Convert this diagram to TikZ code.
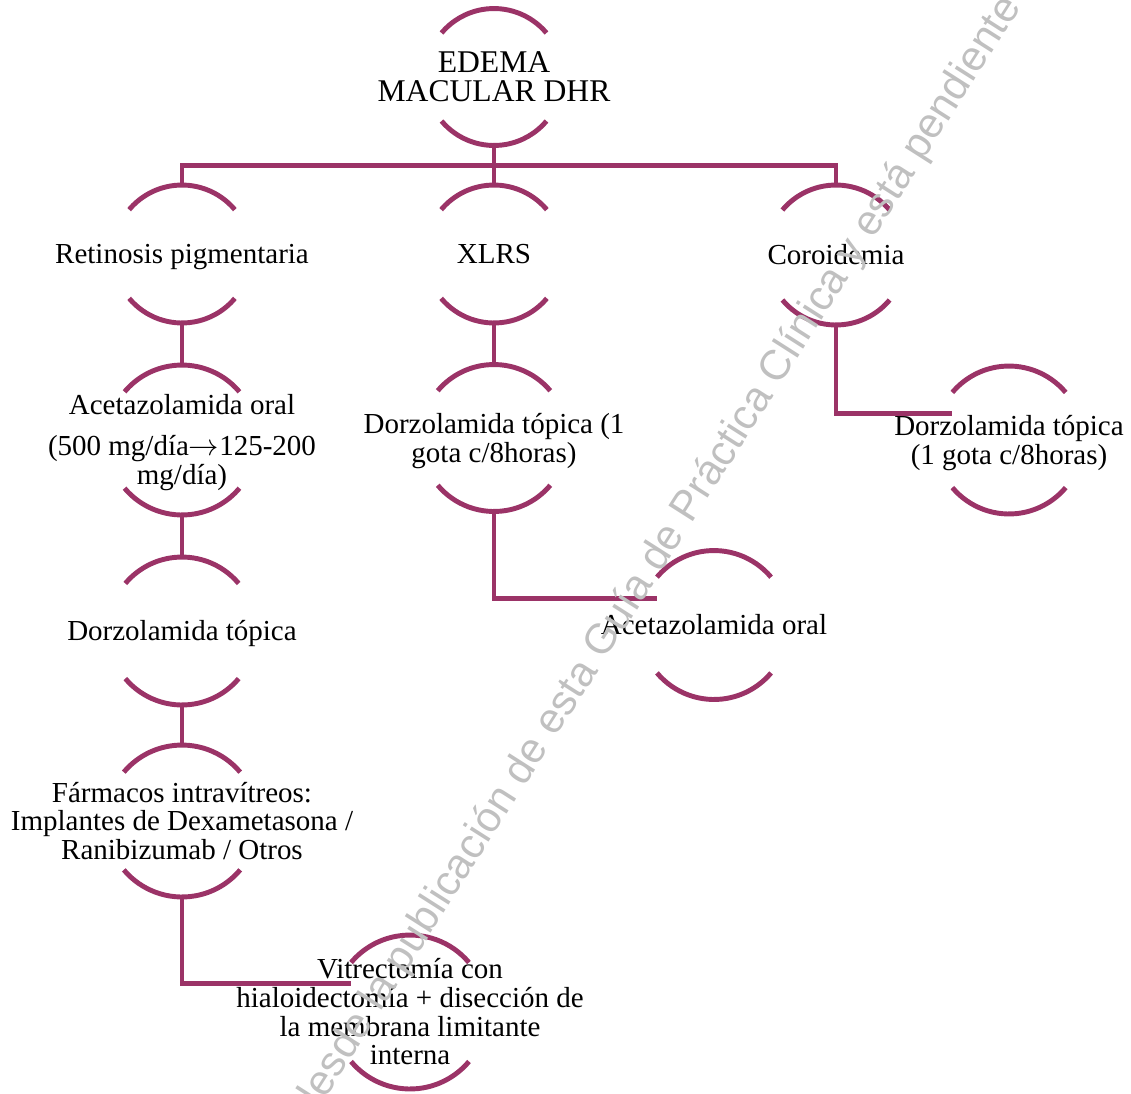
\documentclass[tikz,border=0pt]{standalone}
\usepackage{fontspec}
\setmainfont{Liberation Serif}
\newfontfamily\wmfont{Liberation Sans}
\usetikzlibrary{calc}
\definecolor{plum}{RGB}{155,51,103}
\definecolor{wmgray}{RGB}{192,192,192}
\newcommand{\ctext}[1]{\raisebox{-2.3pt}[\height][\depth]{\makebox[0pt]{\begin{tabular}{@{}c@{}}#1\end{tabular}}}}

\begin{document}
\begin{tikzpicture}[x=0.02cm, y=0.02cm,
    ring/.style = {circle, inner sep=0pt, outer sep=0pt, minimum size=#1*0.04cm,
                   font=\fontsize{16.5}{16.2}\selectfont},
    halo/.style = {plum, line width=2.8pt},
    link/.style = {plum, line width=2.8pt}]
    \useasboundingbox (0,0) rectangle (1131,-1093);

    \node[ring=68.5, font=\fontsize{18}{16.5}\selectfont] (edema) at (494,-77) {\ctext{EDEMA\\MACULAR DHR}};

    \node[ring=69] (retino) at (182,-254) {\ctext{Retinosis pigmentaria}};
    \node[ring=69] (xlrs) at (494,-254) {\ctext{XLRS}};
    \node[ring=70] (coro) at (836,-255) {\ctext{Coroidemia}};

    \node[ring=75] (ace) at (182,-440) {\ctext{Acetazolamida oral\\[7pt] (500 mg/día$\rightarrow$125-200\\ mg/día)}};
    \node[ring=74] (dzl) at (182,-631) {\ctext{Dorzolamida tópica}};
    \node[ring=76] (fmc) at (182,-821) {\ctext{Fármacos intravítreos:\\ Implantes de Dexametasona /\\ Ranibizumab / Otros}};
    \node[ring=77] (vitr) at (410,-1012) {\ctext{Vitrectomía con\\ hialoidectomía + disección de\\ la membrana limitante\\ interna}};

    \node[ring=73.5] (dzm) at (494,-438) {\ctext{Dorzolamida tópica (1\\ gota c/8horas)}};
    \node[ring=74.5] (acr) at (714,-625) {\ctext{Acetazolamida oral}};
    \node[ring=74] (dzr) at (1009,-440) {\ctext{Dorzolamida tópica\\ (1 gota c/8horas)}};

    \foreach \nd in {edema,retino,xlrs,coro,ace,dzl,fmc,vitr,dzm,acr,dzr} {
        \draw[halo] let \p1 = ($(\nd.north)-(\nd.center)$) in
            (\nd.40) arc[start angle=40, end angle=140, radius=\y1]
            (\nd.220) arc[start angle=220, end angle=320, radius=\y1];
    }

    \draw[link] (edema.south) -- (xlrs.north);
    \draw[link] (retino.north) |- ($(edema.south)!0.5!(xlrs.north)$) -| (coro.north);
    \draw[link] (retino.south) -- (ace.north);
    \draw[link] (ace.south) -- (dzl.north);
    \draw[link] (dzl.south) -- (fmc.north);
    \draw[link] (fmc.south) |- ($(vitr.140)+(0,-21)$);
    \draw[link] (xlrs.south) -- (dzm.north);
    \draw[link] (dzm.south) |- ($(acr.140)+(0,-21)$);
    \draw[link] (coro.south) |- ($(dzr.140)+(0,-21)$);

    \begin{scope}
        \clip (0,0) rectangle (1131,-1093);
        \node[wmgray, font=\wmfont\fontsize{24}{24}\selectfont, rotate=57.5, anchor=base east, inner sep=0pt]
            (wm) at (1022,-6) {desde la publicación de esta Guía de Práctica Clínica y está pendiente};
    \end{scope}
\end{tikzpicture}
\end{document}
